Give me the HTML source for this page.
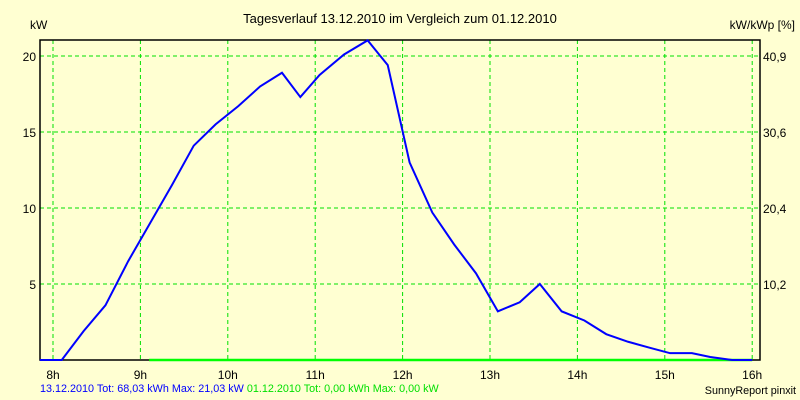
<!DOCTYPE html>
<html><head><meta charset="utf-8"><style>
body{margin:0;background:#ffffd2;}
svg{display:block;font-family:"Liberation Sans",sans-serif;font-size:12px;}
</style></head><body>
<svg id="c" width="800" height="400">
<rect x="0" y="0" width="800" height="400" fill="#ffffd2"/>
<text x="400" y="23" text-anchor="middle" font-size="13">Tagesverlauf 13.12.2010 im Vergleich zum 01.12.2010</text>
<text x="30" y="29">kW</text>
<text x="795" y="29" text-anchor="end">kW/kWp [%]</text>
<g id="grid"></g>
<rect x="40" y="40" width="720" height="320" fill="none" stroke="#000" stroke-width="1.5"/>
<g id="series"></g>
<g id="labels"></g>
<text x="40" y="392" font-size="10.8"><tspan fill="#0000ff">13.12.2010 Tot: 68,03 kWh Max: 21,03 kW</tspan><tspan fill="#00e000"> 01.12.2010 Tot: 0,00 kWh Max: 0,00 kW</tspan></text>
<text x="796" y="394" text-anchor="end" font-size="10.8">SunnyReport pinxit</text>
</svg>
<script>
const hourTicks=[8,9,10,11,12,13,14,15,16];
const yTicks=[5,10,15,20];
const y2Labels=["10,2","20,4","30,6","40,9"];
const times=[7.85,8.10,8.35,8.6,8.86,9.11,9.36,9.61,9.86,10.12,10.37,10.62,10.83,11.05,11.33,11.6,11.83,12.08,12.34,12.59,12.84,13.09,13.34,13.57,13.82,14.08,14.33,14.58,14.83,15.06,15.31,15.52,15.77,16.0];
const power=[0,0,1.9,3.6,6.5,9.0,11.5,14.1,15.5,16.7,18.0,18.9,17.3,18.75,20.1,21.03,19.4,13.0,9.7,7.6,5.7,3.2,3.8,5.0,3.2,2.6,1.7,1.2,0.8,0.45,0.45,0.2,0,0];
const compTimes=[9.1,16.0];
const compPower=[0,0];
const NS="http://www.w3.org/2000/svg";
const X=h=>53+(h-8)*87.4, Y=v=>360-v*15.2;
const grid=document.getElementById('grid'),ser=document.getElementById('series'),lab=document.getElementById('labels');
function mk(tag,a,p){const e=document.createElementNS(NS,tag);for(const k in a)e.setAttribute(k,a[k]);p.appendChild(e);return e;}
hourTicks.forEach(h=>{
 const l=mk('line',{x1:X(h),x2:X(h),y1:40,y2:360,stroke:'#00e000','stroke-dasharray':'4,3'},grid);
 
 
 const t=mk('text',{x:X(h),y:379,'text-anchor':'middle'},lab);t.textContent=h+'h';
 
 
});
yTicks.forEach((v,i)=>{
 const l=mk('line',{x1:40,x2:760,y1:Y(v),y2:Y(v),stroke:'#00e000','stroke-dasharray':'4,3'},grid);
 
 
 const t=mk('text',{x:36,y:Y(v)+5,'text-anchor':'end'},lab);t.textContent=v;
 
 
 const t2=mk('text',{x:763,y:Y(v)+5},lab);t2.textContent=y2Labels[i];
 
 
});
const c=mk('polyline',{points:compTimes.map((h,i)=>X(h)+','+Y(compPower[i])).join(' '),fill:'none',stroke:'#00ff00','stroke-width':2.5},ser);


const p=mk('polyline',{points:times.map((h,i)=>X(h)+','+Y(power[i])).join(' '),fill:'none',stroke:'#0000ff','stroke-width':2},ser);


</script>
</body></html>
